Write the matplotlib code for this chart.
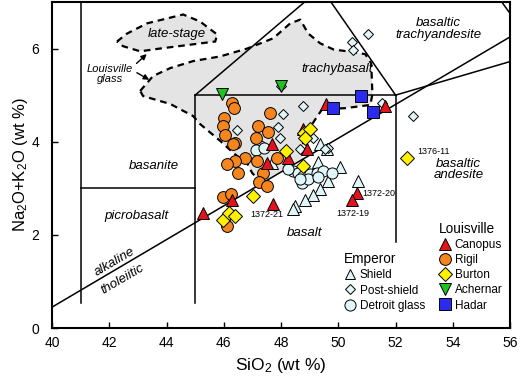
import matplotlib
matplotlib.use('Agg')
import matplotlib.pyplot as plt
from matplotlib.lines import Line2D
from matplotlib.patches import Polygon

plt.rcParams['font.family'] = ['Liberation Sans', 'DejaVu Sans']
plt.rcParams['mathtext.fontset'] = 'custom'
plt.rcParams['mathtext.rm'] = 'Liberation Sans'
plt.rcParams['mathtext.it'] = 'Liberation Sans:italic'

# ---- data (SiO2, Na2O+K2O) ----
canopus_x = [45.28, 46.29, 47.73, 50.66, 50.49, 47.69, 48.92, 47.52, 48.25, 49.58, 51.64, 48.78]
canopus_y = [2.48, 2.74, 2.67, 2.91, 2.76, 3.95, 3.85, 3.55, 3.65, 4.81, 4.77, 4.27]

rigil_x = [46.29, 46.36, 46.01, 45.98, 46.05, 46.40, 47.62, 47.20, 47.55, 47.13, 46.33, 46.75,
           46.40, 46.12, 47.17, 47.87, 47.38, 46.50, 47.24, 47.52, 45.98, 46.26, 46.12]
rigil_y = [4.83, 4.72, 4.51, 4.34, 4.15, 3.97, 4.62, 4.34, 4.21, 4.08, 3.95, 3.65,
           3.59, 3.53, 3.59, 3.65, 3.33, 3.33, 3.14, 3.06, 2.82, 2.88, 2.20]

burton_x = [45.98, 46.19, 46.40, 47.03, 48.18, 48.78, 48.81, 49.02, 48.85, 52.41]
burton_y = [2.33, 2.46, 2.41, 2.84, 3.80, 3.48, 4.19, 4.27, 4.08, 3.65]

achernar_x = [45.94, 48.00]
achernar_y = [5.02, 5.19]

hadar_x = [49.83, 50.80, 51.22]
hadar_y = [4.72, 4.98, 4.64]

shield_x = [49.37, 49.62, 49.30, 50.07, 49.65, 49.37, 49.13, 48.85, 48.50, 48.43, 50.70, 47.69]
shield_y = [3.95, 3.85, 3.57, 3.46, 3.16, 2.99, 2.86, 2.74, 2.63, 2.56, 3.16, 3.55]

postshield_x = [46.45, 48.08, 47.90, 47.97, 48.78, 49.13, 48.67, 49.65, 52.62, 51.54,
                51.05, 50.49, 50.52, 48.00, 49.55]
postshield_y = [4.25, 4.59, 4.32, 4.08, 4.76, 4.08, 3.85, 3.87, 4.55, 4.83,
                6.32, 6.15, 5.96, 5.19, 3.85]

detroit_x = [47.27, 47.13, 47.41, 48.43, 48.60, 48.78, 49.02, 49.27, 49.48, 49.79,
             48.74, 48.95, 49.30, 48.67, 48.25]
detroit_y = [3.91, 3.82, 3.87, 3.38, 3.33, 3.27, 3.31, 3.33, 3.38, 3.33,
             3.12, 3.21, 3.25, 3.21, 3.42]

# Louisville glass fields (dashed outlines)
glass_x = [43.08, 43.53, 44.13, 44.93, 45.87, 46.82, 47.73, 48.32, 48.67, 48.95, 49.37,
           49.83, 50.31, 50.94, 51.15, 51.19, 51.12, 50.24, 49.44, 49.27, 49.09, 48.95,
           48.78, 48.74, 47.34, 46.99, 46.82, 46.33, 45.87, 45.17, 44.93, 44.13, 43.18]
glass_y = [5.09, 5.41, 5.58, 5.73, 5.83, 6.00, 6.22, 6.54, 6.62, 6.32, 6.11,
           5.98, 5.94, 5.88, 5.68, 5.02, 4.79, 4.72, 4.70, 4.55, 4.38, 4.23,
           4.08, 3.63, 3.10, 3.33, 3.53, 3.76, 4.02, 4.38, 4.55, 4.81, 4.98]
late_x = [42.27, 42.62, 43.32, 44.58, 45.17, 45.77, 45.70, 44.93, 43.78, 43.08, 42.48]
late_y = [6.15, 6.32, 6.54, 6.73, 6.58, 6.30, 6.15, 6.09, 6.00, 5.94, 6.05]

# TAS field boundaries
tas_lines = [
    ([41, 41], [0.53, 7]),
    ([41, 45], [3, 3]),
    ([45, 45], [0.53, 5]),
    ([45, 52], [5, 5]),
    ([52, 52], [1.85, 5]),
    ([45, 49.4], [5, 7.3]),
    ([49.4, 52], [7.3, 5]),
    ([52, 57], [5, 5.9]),
    ([53, 57], [9.3, 5.9]),
]
alk_x = [40, 56]
alk_y = [0.45, 6.25]

fig = plt.figure(figsize=(5.2, 3.82), dpi=100)
ax = fig.add_axes([0.1, 0.141, 0.881, 0.854])

ax.add_patch(Polygon(list(zip(glass_x, glass_y)), closed=True, facecolor='#e4e4e4',
                     edgecolor='none', zorder=0))
ax.add_patch(Polygon(list(zip(late_x, late_y)), closed=True, facecolor='#e4e4e4',
                     edgecolor='black', lw=1.6, ls=(0, (3, 2.2)), zorder=1))
# dashed outline of main glass field (bottom edge follows alkaline line, not dashed)
ax.plot(glass_x[:24], glass_y[:24], color='black', lw=1.6, ls=(0, (3, 2.2)), zorder=1)
ax.plot(glass_x[24:] + [glass_x[0]], glass_y[24:] + [glass_y[0]], color='black', lw=1.6,
        ls=(0, (3, 2.2)), zorder=1)

for xs, ys in tas_lines:
    ax.plot(xs, ys, color='black', lw=1.1, zorder=2)
ax.plot(alk_x, alk_y, color='black', lw=1.1, zorder=2)

mk = dict(markeredgecolor='black', markeredgewidth=0.7, linestyle='none')
ax.plot(shield_x, shield_y, marker='^', ms=8, color='#e0f6f8', zorder=3, **mk)
ax.plot(postshield_x, postshield_y, marker='D', ms=5.5, color='#e0f6f8', zorder=3, **mk)
ax.plot(detroit_x, detroit_y, marker='o', ms=8, color='#e0f6f8', zorder=3, **mk)
ax.plot(rigil_x, rigil_y, marker='o', ms=8.5, color='#f5861f', zorder=4, **mk)
ax.plot(canopus_x, canopus_y, marker='^', ms=9, color='#e3131b', zorder=5, **mk)
ax.plot(burton_x, burton_y, marker='D', ms=7, color='#fff200', zorder=5, **mk)
ax.plot(achernar_x, achernar_y, marker='v', ms=9, color='#1fc21f', zorder=5, **mk)
ax.plot(hadar_x, hadar_y, marker='s', ms=8.5, color='#2b2bf0', zorder=5, **mk)

# field labels
lab = dict(style='italic', fontsize=9.5, ha='center', va='center')
ax.text(44.37, 6.32, 'late-stage', **lab)
ax.text(49.97, 5.55, 'trachybasalt', **lab)
ax.text(53.5, 6.42, 'basaltic\ntrachyandesite', linespacing=0.95, **lab)
ax.text(43.57, 3.48, 'basanite', **lab)
ax.text(42.94, 2.41, 'picrobasalt', **lab)
ax.text(48.81, 2.05, 'basalt', **lab)
ax.text(54.2, 3.40, 'basaltic\nandesite', linespacing=0.95, **lab)
ax.text(42.2, 1.42, 'alkaline', rotation=30.5, **lab)
ax.text(42.45, 1.05, 'tholeiitic', rotation=30.5, **lab)
ax.text(42.03, 5.45, 'Louisville\nglass', style='italic', fontsize=8, ha='center',
        va='center', linespacing=1.0)
arw = dict(arrowstyle='-|>', color='black', lw=1.0, mutation_scale=8)
ax.annotate('', xy=(43.38, 5.92), xytext=(42.88, 5.64), arrowprops=arw)
ax.annotate('', xy=(43.48, 5.30), xytext=(42.88, 5.51), arrowprops=arw)

# sample labels
sl = dict(fontsize=6.5, va='center')
ax.text(47.52, 2.44, '1372-21', ha='center', **sl)
ax.text(50.84, 2.88, '1372-20', ha='left', **sl)
ax.text(50.49, 2.47, '1372-19', ha='center', **sl)
ax.text(52.76, 3.80, '1376-11', ha='left', **sl)

ax.set_xlim(40, 56)
ax.set_ylim(0, 7)
ax.set_xticks(range(40, 57, 2))
ax.set_yticks([0, 2, 4, 6])
ax.tick_params(direction='in', length=4, width=1, labelsize=10, pad=6)
ax.tick_params(axis='y', pad=9)
for s in ax.spines.values():
    s.set_linewidth(1.5)
ax.set_xlabel('SiO$_2$ (wt %)', fontsize=12.5)
ax.set_ylabel('Na$_2$O+K$_2$O (wt %)', fontsize=12, labelpad=1)

def h(marker, color, ms):
    return Line2D([], [], marker=marker, color=color, markeredgecolor='black',
                  markeredgewidth=0.7, ms=ms, linestyle='none')

leg_kw = dict(loc='upper left', frameon=False, fontsize=8.5, title_fontsize=9.8,
              handletextpad=0.35, handlelength=1.0, labelspacing=0.27, borderpad=0.2,
              alignment='left')
emp = ax.legend([h('^', '#e0f6f8', 7.5), h('D', '#e0f6f8', 5.5), h('o', '#e0f6f8', 8)],
                ['Shield', 'Post-shield', 'Detroit glass'], title='Emperor',
                bbox_to_anchor=(0.619, 0.258), **leg_kw)
ax.add_artist(emp)
ax.legend([h('^', '#e3131b', 9), h('o', '#f5861f', 8.5), h('D', '#fff200', 7),
           h('v', '#1fc21f', 9), h('s', '#2b2bf0', 8.5)],
          ['Canopus', 'Rigil', 'Burton', 'Achernar', 'Hadar'], title='Louisville',
          bbox_to_anchor=(0.826, 0.352), **leg_kw)

fig.savefig('out.png', dpi=100)
